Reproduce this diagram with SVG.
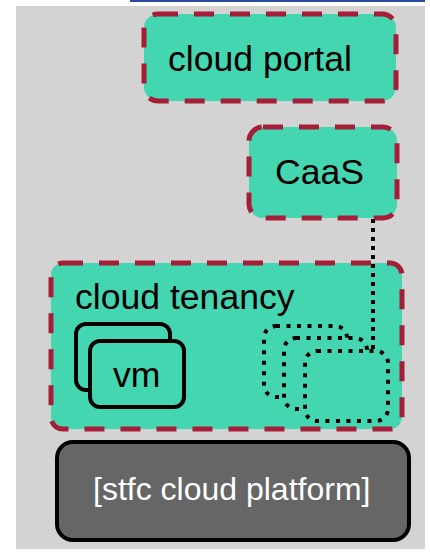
<svg xmlns="http://www.w3.org/2000/svg" width="430" height="554" viewBox="0 0 430 554">
<style>
.zone{fill:#44d6b0;stroke:#a51d36;stroke-width:5;stroke-dasharray:20 16}
.lbl{font-family:"Liberation Sans",Arial,sans-serif;font-size:35.6px;fill:#000}
.dot{fill:#44d6b0;stroke:#000;stroke-width:4;stroke-dasharray:4 6.5}
.vm{fill:#44d6b0;stroke:#000;stroke-width:4}
</style>
<rect x="0" y="0" width="430" height="554" fill="#ffffff"/>
<rect x="130" y="0" width="295" height="2" fill="#2a4aa0"/>
<rect x="16" y="6" width="409" height="543" fill="#d3d3d3"/>
<g id="cloud-portal">
<rect class="zone" x="144" y="14" width="252" height="87" rx="14"/>
<text class="lbl" x="168" y="71">cloud portal</text>
</g>
<g id="caas">
<rect class="zone" x="249" y="127" width="148" height="91" rx="14"/>
<text class="lbl" x="275" y="184">CaaS</text>
</g>
<g id="cloud-tenancy">
<rect class="zone" x="51" y="263" width="351" height="166" rx="12"/>
<text class="lbl" x="75" y="309">cloud tenancy</text>
</g>
<g id="vm">
<rect class="vm" x="76" y="324" width="94" height="66" rx="10"/>
<rect class="vm" x="90" y="341" width="94" height="66" rx="10"/>
<text class="lbl" x="113" y="387">vm</text>
</g>
<g id="containers">
<rect class="dot" x="264" y="326" width="83" height="71" rx="12"/>
<rect class="dot" x="284" y="338" width="83" height="71" rx="12"/>
<rect class="dot" x="305" y="351" width="83" height="70" rx="12"/>
</g>
<g id="connectors">
<line x1="373" y1="219" x2="373" y2="349" stroke="#000" stroke-width="4" stroke-dasharray="4 5"/>
</g>
<g id="stfc-cloud-platform">
<rect x="57" y="442" width="352" height="98" rx="16" fill="#666666" stroke="#000" stroke-width="4"/>
<text x="93" y="500" font-family="Liberation Sans, Arial, sans-serif" font-size="32" fill="#ffffff">[stfc cloud platform]</text>
</g>
</svg>
